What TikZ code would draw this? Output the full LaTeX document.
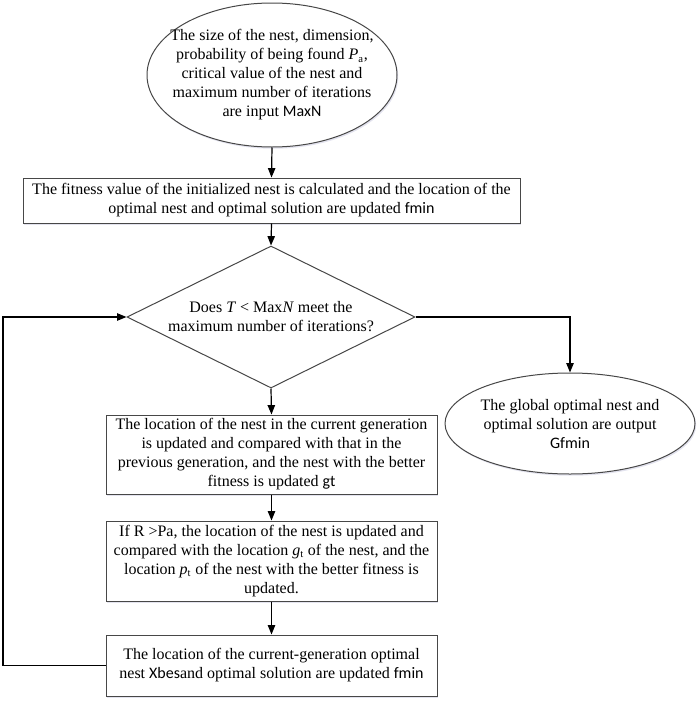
\documentclass[tikz,border=0pt]{standalone}
\usepackage{fontspec}
\setmainfont{Liberation Serif}
\newfontfamily\cfont{Carlito}
\usetikzlibrary{shapes.geometric,arrows.meta,shadows}
\begin{document}
\begin{tikzpicture}[x=0.75pt,y=-0.75pt,
  shapeline/.style={draw=black!72, line width=0.75pt, fill=white},
  shad/.style={drop shadow={shadow xshift=0.9pt, shadow yshift=-1.3pt, fill=blue!25!gray!35, opacity=0.5}},
  procbox/.style={shapeline, shad, rectangle, inner sep=0pt, align=center, font=\fontsize{12}{14.25}\selectfont},
  ovalnode/.style={shapeline, shad, ellipse, inner sep=0pt},
  decnode/.style={shapeline, diamond, inner sep=0pt},
  txt/.style={align=center, inner sep=0pt, font=\fontsize{12}{14.25}\selectfont},
  conn/.style={line width=0.9pt, draw=black, -{Triangle[length=7pt,width=5.5pt]}}
]
\useasboundingbox (0,0) rectangle (699,703);

% start ellipse
\node[ovalnode, minimum width=187.5pt, minimum height=108pt] (e1) at (272,75) {};
\node[txt] (e1t) at (e1.center) {The size of the nest, dimension,\\
probability of being found \textit{P}\textsubscript{a},\\
critical value of the nest and\\
maximum number of iterations\\
are input {\cfont MaxN}};

% box 1
\node[procbox, minimum width=372.75pt, minimum height=33.75pt] (b1) at (271.5,200.5)
  {The fitness value of the initialized nest is calculated and the location of the\\
   optimal nest and optimal solution are updated {\cfont fmin}};

% decision
\node[decnode, minimum width=216pt, minimum height=106.5pt] (d) at (271,317) {};
\node[txt] (dt) at (d.center) {Does \textit{T} < Max\textit{N} meet the\\
maximum number of iterations?};

% output ellipse
\node[ovalnode, minimum width=187.5pt, minimum height=75.75pt] (e2) at (570,423.5) {};
\node[txt] (e2t) at (e2.center) {The global optimal nest and\\
optimal solution are output\\
{\cfont Gfmin}};

% box 2
\node[procbox, minimum width=248.25pt, minimum height=59.25pt] (b2) at (271.5,454.5)
  {The location of the nest in the current generation\\
   is updated and compared with that in the\\
   previous generation, and the nest with the better\\
   fitness is updated {\cfont gt}};

% box 3
\node[procbox, minimum width=248.25pt, minimum height=60pt] (b3) at (271.5,561)
  {If R >Pa, the location of the nest is updated and\\
   compared with the location \textit{g}\textsubscript{t} of the nest, and the\\
   location \textit{p}\textsubscript{t} of the nest with the better fitness is\\
   updated.};

% box 4
\node[procbox, minimum width=248.25pt, minimum height=45.75pt] (b4) at (271.5,665.5)
  {The location of the current-generation optimal\\
   nest {\cfont Xbes}and optimal solution are updated {\cfont fmin}};

\coordinate (lp) at (3,665.5);

\draw[conn] (e1.south) -- (b1.north);
\draw[conn] (b1.south) -- (d.north);
\draw[conn] (d.south) -- (b2.north);
\draw[conn] (b2.south) -- (b3.north);
\draw[conn] (b3.south) -- (b4.north);
\draw[conn] (d.east) -| (e2.north);
\draw[conn] (b4.west) -- (lp) |- (d.west);
\end{tikzpicture}
\end{document}
